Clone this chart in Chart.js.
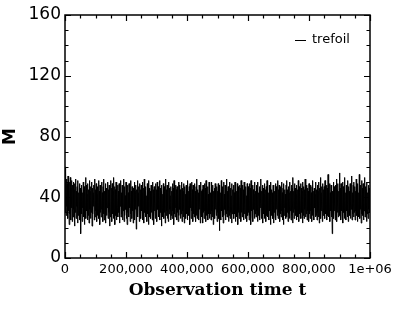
<!DOCTYPE html>
<html>
<head>
<meta charset="utf-8">
<script src="https://cdn.jsdelivr.net/npm/chart.js@4.4.1/dist/chart.umd.min.js"></script>
<style>
  html, body { margin: 0; padding: 0; background: #fff; }
  #wrap { width: 415px; height: 310px; }
</style>
</head>
<body>
<div id="wrap"><canvas id="chart" width="415" height="310"></canvas></div>
<script>
// M(t), one value per 1,250 time steps
const seriesLabel = 'trefoil';
const sampleStep = 1250;
const mValues = [
  60,30,57,28,52,34,49,26,54,31,47,22,50,29,53,25,46,33,51,24,
  48,27,50,32,45,21,49,30,52,26,44,34,47,23,51,28,43,31,49,25,
  46,16,45,29,48,24,43,33,50,27,47,22,44,30,53,26,48,31,42,25,
  49,28,45,23,51,32,44,26,47,30,50,21,46,29,43,34,48,25,52,27,
  45,31,49,24,42,28,47,33,51,26,44,22,48,30,46,27,50,32,43,24,
  47,29,52,25,44,31,49,23,46,28,41,33,50,26,45,30,48,21,43,27,
  51,32,46,24,49,29,44,26,53,31,47,22,45,28,50,25,42,33,48,27,
  44,30,49,23,46,34,51,27,43,29,48,25,45,31,52,24,47,28,41,32,
  50,26,45,22,48,30,43,27,49,33,46,24,51,29,44,26,47,31,42,23,
  46,28,50,25,44,32,48,19,45,30,51,27,43,34,47,24,49,29,45,26,
  48,31,43,25,50,28,46,23,52,30,44,27,47,32,41,24,49,29,45,22,
  51,27,46,33,44,26,48,30,42,25,50,28,45,22,47,31,43,26,49,29,
  45,24,50,32,47,27,43,29,51,25,46,30,44,21,48,33,42,27,49,26,
  47,30,44,23,52,28,45,31,48,26,43,24,50,29,46,32,41,25,47,28,
  44,26,49,31,46,22,51,29,43,27,48,33,45,25,47,30,42,24,50,28,
  48,32,45,26,43,29,50,24,46,31,44,27,49,23,47,30,42,26,48,29,
  46,25,51,30,44,28,47,22,49,33,43,26,50,31,45,24,48,29,42,27,
  49,31,44,24,47,28,52,26,45,30,43,25,48,32,46,23,50,29,44,27,
  45,23,48,30,43,26,49,31,46,24,51,28,44,33,47,25,42,29,50,26,
  47,29,43,25,50,31,45,27,48,22,44,30,46,26,49,32,41,28,47,24,
  44,30,49,26,46,18,48,29,43,25,51,31,45,27,47,23,50,28,42,32,
  48,25,45,29,52,27,44,31,47,24,43,28,50,26,46,30,41,23,49,29,
  45,32,48,26,43,29,50,24,46,31,44,27,49,22,47,30,42,26,48,28,
  46,24,51,30,44,27,48,33,45,25,50,29,43,26,47,31,41,24,49,28,
  47,30,43,25,49,28,46,22,51,31,44,27,48,24,45,32,42,26,50,29,
  44,27,48,31,46,24,50,28,43,30,47,25,45,33,52,26,44,29,48,23,
  46,29,42,26,49,32,45,24,47,28,51,27,44,30,43,25,48,31,46,22,
  50,28,45,31,43,26,48,23,46,30,44,27,49,25,47,32,42,28,51,26,
  45,30,48,24,44,29,47,27,50,31,43,25,46,22,49,28,45,33,42,26,
  48,27,51,30,45,24,47,29,43,26,50,31,44,25,48,28,46,23,53,30,
  44,26,49,32,46,28,42,25,48,30,45,27,51,24,47,29,43,31,49,26,
  46,30,44,23,50,28,47,26,45,32,52,27,43,29,48,25,46,31,44,24,
  49,29,45,26,48,31,43,24,47,28,51,30,44,25,46,33,42,27,50,28,
  45,25,48,30,44,27,50,23,46,29,53,26,43,31,47,24,49,28,45,30,
  47,26,51,29,44,32,48,25,46,28,55,27,45,30,49,24,43,31,48,27,
  46,16,44,29,50,26,47,31,43,25,48,28,52,24,45,30,49,27,44,32,
  56,28,46,25,49,31,44,27,50,23,47,30,45,26,53,29,43,25,48,31,
  45,27,51,24,47,30,44,28,49,26,46,32,54,25,43,29,48,27,50,30,
  47,25,44,31,52,28,46,24,49,30,43,27,55,26,45,32,48,23,51,29,
  46,28,49,25,44,31,53,27,47,30,45,24,50,29,43,26,48,32,46,30,
  38
];
const xTicks = [0, 200000, 400000, 600000, 800000, 1000000];
const yTicks = [0, 40, 80, 120, 160];

const points = mValues.map((m, i) => ({ x: i * sampleStep, y: m }));

// frame, inward ticks on all four sides, legend in the corner
const framePlugin = {
  id: 'frame',
  afterDraw(chart) {
    const ctx = chart.ctx;
    const a = chart.chartArea;
    const xs = chart.scales.x, ys = chart.scales.y;
    ctx.save();
    ctx.strokeStyle = '#000';
    ctx.lineWidth = 1.2;
    ctx.beginPath();
    for (let v = 0; v <= 1000000; v += 50000) {
      const px = Math.round(xs.getPixelForValue(v)) + 0.5;
      const len = v % 200000 === 0 ? 6 : 3.5;
      ctx.moveTo(px, a.bottom); ctx.lineTo(px, a.bottom - len);
      ctx.moveTo(px, a.top); ctx.lineTo(px, a.top + len);
    }
    for (let v = 0; v <= 160; v += 10) {
      const py = Math.round(ys.getPixelForValue(v)) + 0.5;
      const len = v % 40 === 0 ? 6 : 3.5;
      ctx.moveTo(a.left, py); ctx.lineTo(a.left + len, py);
      ctx.moveTo(a.right, py); ctx.lineTo(a.right - len, py);
    }
    ctx.stroke();
    ctx.lineWidth = 1.5;
    ctx.strokeRect(a.left, a.top, a.right - a.left, a.bottom - a.top);

    // legend
    ctx.lineWidth = 1;
    ctx.beginPath();
    ctx.moveTo(a.right - 75, a.top + 25.5);
    ctx.lineTo(a.right - 64, a.top + 25.5);
    ctx.stroke();
    ctx.fillStyle = '#000';
    ctx.font = '13px "DejaVu Sans"';
    ctx.textBaseline = 'middle';
    ctx.fillText(chart.data.datasets[0].label, a.right - 58, a.top + 25);
    ctx.restore();
  }
};

new Chart(document.getElementById('chart'), {
  type: 'line',
  data: {
    datasets: [{
      label: seriesLabel,
      data: points,
      borderColor: '#000',
      borderWidth: 1,
      pointRadius: 0,
      tension: 0,
      fill: false
    }]
  },
  options: {
    responsive: false,
    animation: false,
    layout: { padding: { top: 15, right: 45, left: 0, bottom: 0 } },
    plugins: { legend: { display: false }, tooltip: { enabled: false } },
    scales: {
      x: {
        type: 'linear',
        min: 0,
        max: 1000000,
        afterBuildTicks: s => { s.ticks = xTicks.map(v => ({ value: v })); },
        afterFit: s => { s.height = 52; },
        grid: { display: false, drawTicks: false },
        border: { display: false },
        ticks: {
          padding: 4,
          color: '#000',
          maxRotation: 0,
          autoSkip: false,
          font: { family: 'DejaVu Sans', size: 13 },
          callback: v => v === 1000000 ? '1e+06' : v.toLocaleString('en-US')
        },
        title: {
          display: true,
          text: 'Observation time t',
          color: '#000',
          padding: { top: 0, bottom: 9 },
          font: { family: 'DejaVu Serif', size: 17, weight: 'bold' }
        }
      },
      y: {
        min: 0,
        max: 160,
        afterBuildTicks: s => { s.ticks = yTicks.map(v => ({ value: v })); },
        afterFit: s => { s.width = 65; },
        grid: { display: false, drawTicks: false },
        border: { display: false },
        ticks: {
          padding: 4,
          color: '#000',
          font: { family: 'DejaVu Sans', size: 17 }
        },
        title: {
          display: true,
          text: 'M',
          color: '#000',
          padding: { top: 0, bottom: 4 },
          font: { family: 'DejaVu Sans', size: 17, weight: 'bold' }
        }
      }
    }
  },
  plugins: [framePlugin]
});
</script>
</body>
</html>
